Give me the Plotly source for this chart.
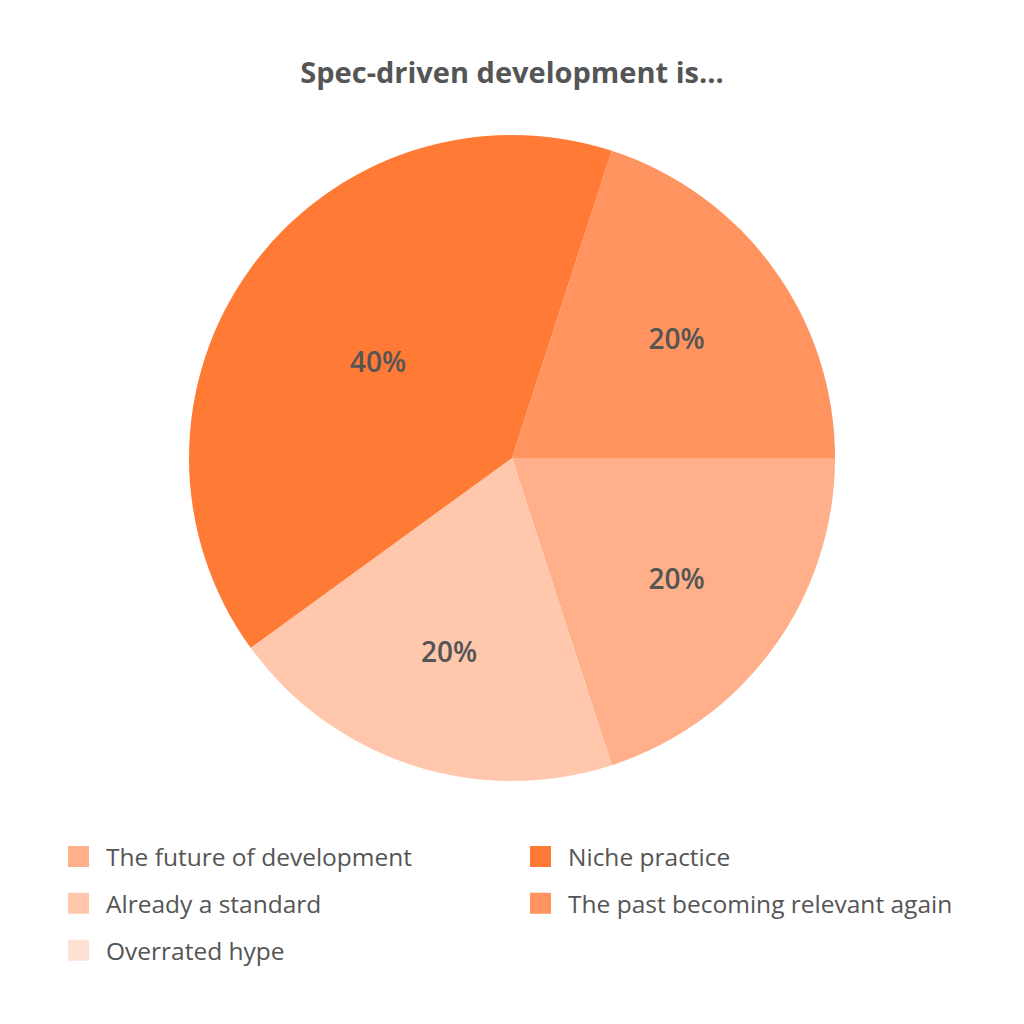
import plotly.graph_objects as go

# survey answers, in the order the pie runs clockwise from 3 o'clock
labels = ["The future of development", "Already a standard", "Overrated hype",
          "Niche practice", "The past becoming relevant again"]
values = [20, 20, 0, 40, 20]
colors = ["#FFB08A", "#FFC8AD", "#FFE2D4", "#FF7A35", "#FF9460"]
# which legend column each answer goes into
legend_col = ["legend", "legend", "legend", "legend2", "legend2"]

font_fam = "Open Sans"
grey = "#555555"

# the page puts the plot 8px in from the top left corner
off = 8

fig = go.Figure()

fig.add_trace(go.Pie(
    labels=labels, values=values,
    marker=dict(colors=colors, line=dict(width=0)),
    sort=False, direction="clockwise", rotation=90,
    textinfo="percent", textposition="inside",
    insidetextorientation="horizontal",
    textfont=dict(family=font_fam, size=28, color=grey, weight=600),
    hoverinfo="label+percent",
    showlegend=False,
    domain=dict(x=[0, (1024 - 2*off)/1024],
                y=[(1024 - 781 + off)/1024, (1024 - 135 + off)/1024]),
))

# legend only entries, so the legend can be laid out in two columns
for lab, col, leg in zip(labels, colors, legend_col):
    fig.add_trace(go.Scatter(
        x=[None], y=[None], mode="markers", name=lab,
        marker=dict(symbol="square", size=16, color=col,
                    line=dict(width=5, color=col)),
        legend=leg, legendgroup=lab, hoverinfo="skip",
    ))

leg_style = dict(
    orientation="v", traceorder="grouped", tracegroupgap=12,
    font=dict(family=font_fam, size=24.5, color=grey),
    itemwidth=45, yanchor="top", y=1 - 826/1024, xanchor="left",
    bgcolor="rgba(0,0,0,0)", itemclick=False, itemdoubleclick=False,
)

fig.update_layout(
    width=1024, height=1024,
    paper_bgcolor="white", plot_bgcolor="white",
    margin=dict(t=0, b=0, l=0, r=0),
    title=dict(text="Spec-driven development is...", x=(512 - off)/1024,
               xanchor="center", y=1 - (73 - off)/1024, yanchor="middle",
               font=dict(family=font_fam, size=29, color=grey, weight=700)),
    xaxis=dict(visible=False), yaxis=dict(visible=False),
    legend=dict(leg_style, x=43/1024),
    legend2=dict(leg_style, x=505/1024),
)

fig.write_html("out.html")
